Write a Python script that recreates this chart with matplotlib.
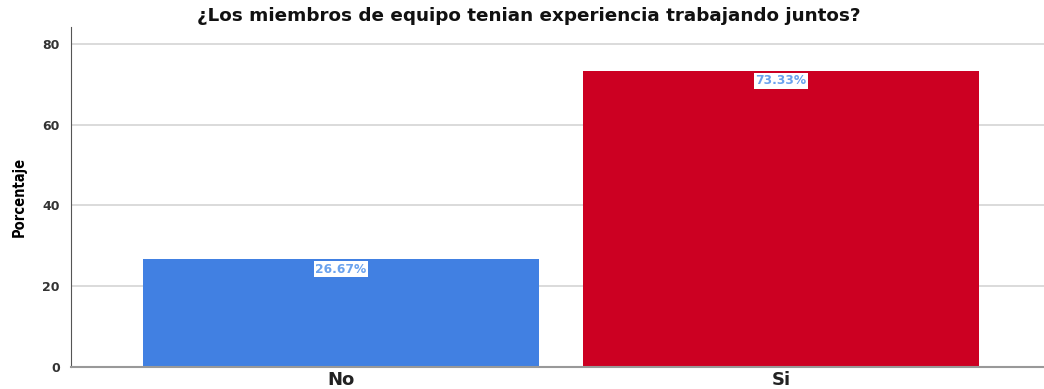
import matplotlib
matplotlib.use('Agg')
import matplotlib.pyplot as plt

categories = ['No', 'Si']
percentages = [26.67, 73.33]
bar_colors = ['#4180E2', '#CC0022']
yticks = [0, 20, 40, 60, 80]

fig = plt.figure(figsize=(10.44, 3.89), dpi=100)
ax = fig.add_axes([0.068, 0.0566, 0.932, 0.874])

x = range(len(categories))
bars = ax.bar(x, percentages, width=0.9, color=bar_colors, zorder=2)

for b, v in zip(bars, percentages):
    ax.annotate('{:.2f}%'.format(v), (b.get_x() + b.get_width() / 2, v),
                xytext=(0, -2.5), textcoords='offset points', ha='center', va='top',
                fontsize=8.8, fontweight='bold', color='#6aa2ee', zorder=3,
                bbox=dict(boxstyle='square,pad=0.12', fc='white', ec='none'))

ax.set_xlim(-0.614, 1.598)
ax.set_ylim(0, 84.2)
ax.set_yticks(yticks)
ax.set_xticks(list(x))
ax.set_xticklabels(categories, fontsize=13, fontweight='bold', color='#222222')
ax.tick_params(axis='x', length=0, pad=3)
ax.tick_params(axis='y', length=0, pad=8, labelsize=9, labelcolor='#333333')
for t in ax.get_yticklabels():
    t.set_fontweight('bold')

ax.yaxis.grid(True, color='#d4d4d4', linewidth=1.2, zorder=0)
ax.set_axisbelow(True)
for s in ['top', 'right']:
    ax.spines[s].set_visible(False)
ax.spines['left'].set_color('#555555')
ax.spines['bottom'].set_color('#999999')
ax.spines['bottom'].set_linewidth(1.5)

ax.set_ylabel('Porcentaje', fontsize=10.5, fontweight='bold', fontstretch='condensed',
              family=['DejaVu Sans'], labelpad=11)
fig.text(0.507, 0.958, '¿Los miembros de equipo tenian experiencia trabajando juntos?',
         ha='center', va='center', fontsize=13.2, fontweight='bold', color='#111111')

fig.savefig('out.png', dpi=100)
